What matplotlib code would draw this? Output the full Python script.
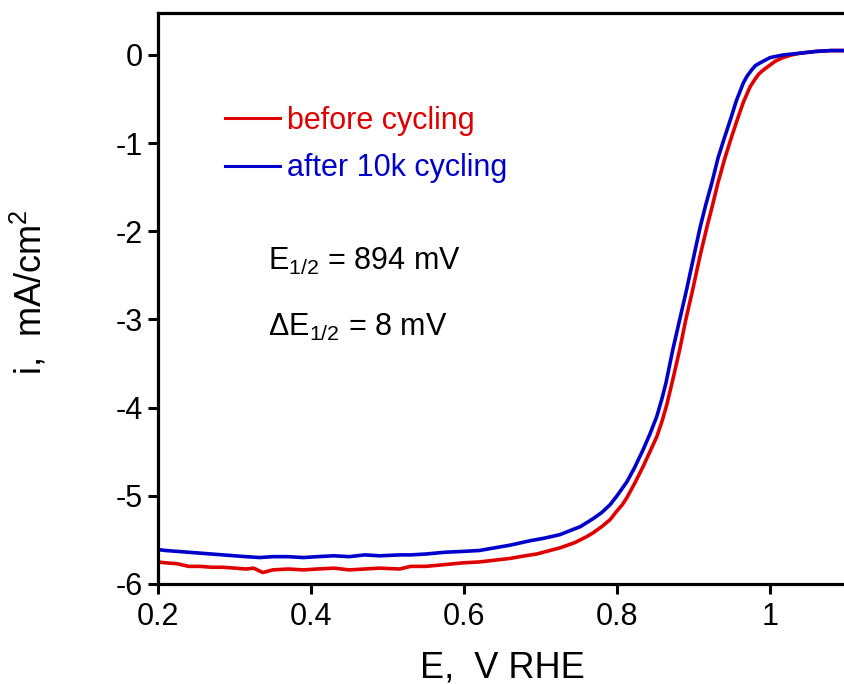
import matplotlib
matplotlib.use("Agg")
import matplotlib.pyplot as plt

plt.rcParams['font.family'] = ['Liberation Sans', 'DejaVu Sans']
plt.rcParams['mathtext.fontset'] = 'custom'
plt.rcParams['mathtext.rm'] = 'Liberation Sans'
plt.rcParams['mathtext.it'] = 'Liberation Sans:italic'

# before cycling
x_before = [0.20, 0.21, 0.225, 0.24, 0.255, 0.27, 0.285, 0.30, 0.315, 0.325, 0.337, 0.35, 0.37,
            0.39, 0.408, 0.43, 0.45, 0.47, 0.49, 0.516, 0.53, 0.55, 0.575, 0.599, 0.62,
            0.64, 0.66, 0.68, 0.695, 0.708, 0.7255, 0.745, 0.761, 0.7686, 0.78, 0.791, 0.80,
            0.807, 0.813, 0.823, 0.834, 0.843, 0.852, 0.859, 0.865, 0.873, 0.882, 0.89, 0.899,
            0.908, 0.9176, 0.925, 0.932, 0.941, 0.949, 0.957, 0.965, 0.974, 0.98, 0.985, 0.99,
            0.996, 1.007, 1.017, 1.028, 1.039, 1.06, 1.08, 1.1]
y_before = [-5.75, -5.76, -5.77, -5.80, -5.80, -5.81, -5.81, -5.82, -5.83, -5.82, -5.87, -5.84, -5.83,
            -5.84, -5.83, -5.82, -5.84, -5.83, -5.82, -5.83, -5.80, -5.80, -5.78, -5.76, -5.75,
            -5.73, -5.71, -5.68, -5.66, -5.63, -5.59, -5.53, -5.46, -5.42, -5.35, -5.27, -5.17,
            -5.10, -5.02, -4.86, -4.67, -4.50, -4.33, -4.15, -3.97, -3.68, -3.34, -3.00, -2.66,
            -2.30, -1.95, -1.70, -1.45, -1.17, -0.95, -0.74, -0.54, -0.36, -0.28, -0.22, -0.18,
            -0.14, -0.07, -0.03, 0.00, 0.02, 0.04, 0.05, 0.05]

# after 10k cycling
x_after = [0.20, 0.21, 0.225, 0.24, 0.255, 0.27, 0.285, 0.30, 0.315, 0.333, 0.35, 0.37, 0.39,
           0.408, 0.43, 0.45, 0.47, 0.49, 0.516, 0.53, 0.55, 0.575, 0.599, 0.62,
           0.64, 0.66, 0.686, 0.705, 0.7255, 0.74, 0.752, 0.7686, 0.78, 0.791, 0.80, 0.813,
           0.823, 0.834, 0.843, 0.852, 0.859, 0.864, 0.873, 0.882, 0.891, 0.90, 0.9085, 0.916,
           0.924, 0.932, 0.94, 0.948, 0.956, 0.965, 0.970, 0.976, 0.981, 0.987, 1.0,
           1.017, 1.039, 1.06, 1.08, 1.1]
y_after = [-5.61, -5.62, -5.63, -5.64, -5.65, -5.66, -5.67, -5.68, -5.69, -5.70, -5.69, -5.69, -5.70,
           -5.69, -5.68, -5.69, -5.67, -5.68, -5.67, -5.67, -5.66, -5.64, -5.63, -5.62,
           -5.59, -5.56, -5.51, -5.48, -5.44, -5.39, -5.35, -5.26, -5.19, -5.10, -5.00, -4.84,
           -4.68, -4.48, -4.30, -4.10, -3.89, -3.72, -3.34, -3.00, -2.66, -2.30, -1.96, -1.70,
           -1.45, -1.17, -0.95, -0.74, -0.52, -0.32, -0.24, -0.17, -0.12, -0.09, -0.03,
           0.0, 0.02, 0.04, 0.05, 0.05]

labels = ["before cycling", "after 10k cycling"]
x_ticks = [0.2, 0.4, 0.6, 0.8, 1.0]
x_ticklabels = ["0.2", "0.4", "0.6", "0.8", "1"]
y_ticks = [0, -1, -2, -3, -4, -5, -6]
y_ticklabels = ["0", "-1", "-2", "-3", "-4", "-5", "-6"]

red = '#e00000'
blue = '#0000cc'

fig = plt.figure(figsize=(8.44, 6.84), dpi=100)
ax = fig.add_axes([158/844, 100/684, 688.5/844, 571/684])

ax.plot(x_before, y_before, color=red, lw=2.6, label=labels[0])
ax.plot(x_after, y_after, color=blue, lw=2.6, label=labels[1])

ax.set_xlim(0.2, 1.1)
ax.set_ylim(-6, 0.476)
ax.set_xticks(x_ticks)
ax.set_xticklabels(x_ticklabels)
ax.set_yticks(y_ticks)
ax.set_yticklabels(y_ticklabels)

for s in ['left', 'bottom', 'top']:
    ax.spines[s].set_linewidth(2.3)
ax.spines['right'].set_visible(False)
ax.tick_params(direction='out', length=7, width=2.2, labelsize=22, pad=4)
ax.tick_params(axis='x', pad=6)

ax.set_xlabel("E,  V RHE", fontsize=26)
ax.set_ylabel("i,  mA/cm$^2$", fontsize=26)
ax.xaxis.set_label_coords(0.5, -0.116)
ax.yaxis.set_label_coords(-0.157, 0.511)

leg = ax.legend(loc='upper left', bbox_to_anchor=(0.098, 0.838), frameon=False,
                fontsize=22, handlelength=1.8, handletextpad=0.2, labelspacing=0.58,
                labelcolor='linecolor', borderpad=0, borderaxespad=0)
for h in leg.get_lines():
    h.set_linewidth(2.2)

ax.text(0.160, 0.550, r"E$_{\mathregular{1/2}}$ = 894 mV", transform=ax.transAxes,
        fontsize=22, va='baseline', ha='left')
ax.text(0.160, 0.434, "\u0394E$_{\\mathregular{1/2}}$ = 8 mV", transform=ax.transAxes,
        fontsize=22, va='baseline', ha='left')

fig.savefig("out.png", dpi=100)
